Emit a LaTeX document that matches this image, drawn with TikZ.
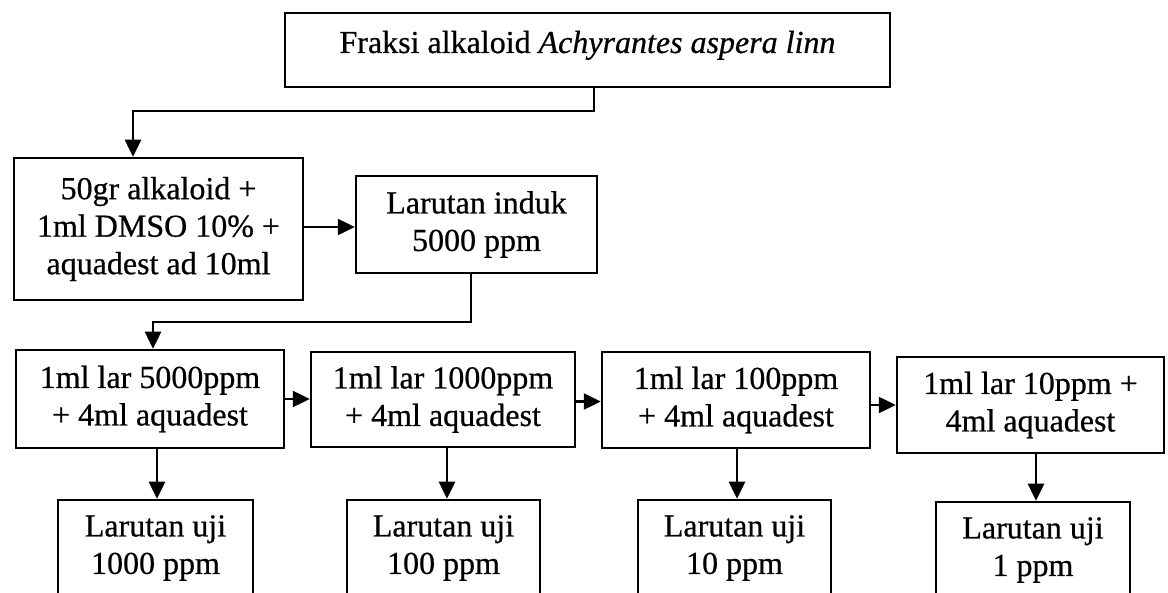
\documentclass[tikz,border=0pt]{standalone}
\usepackage{fontspec}
\setmainfont{Liberation Serif}[FakeBold=0.6]
\usetikzlibrary{arrows.meta}
\begin{document}
\begin{tikzpicture}[x=1pt,y=-1pt,
  box/.style={draw, line width=2.5pt, inner sep=0pt, align=center,
    font=\fontsize{32}{37.5}\selectfont},
  arr/.style={line width=2.5pt, -{Triangle[length=17pt,width=16pt]}}]
\useasboundingbox (0,0) rectangle (1168,593);
\clip (0,0) rectangle (1168,593);
% top
\node[box, minimum width=605pt, text height=40pt, text depth=34pt] (top) at (587.5,50)
  {Fraksi alkaloid \textit{Achyrantes aspera linn}};
\node[box, minimum width=289pt, minimum height=142pt] (mix) at (158.5,229)
  {50gr alkaloid +\\1ml DMSO 10\% +\\aquadest ad 10ml};
\node[box, minimum width=241pt, minimum height=97pt] (induk) at (476.5,224.5)
  {Larutan induk\\5000 ppm};
% row of dilutions
\node[box, minimum width=268pt, minimum height=98pt] (r1) at (150,399)
  {1ml lar 5000ppm\\+ 4ml aquadest};
\node[box, minimum width=264pt, minimum height=95pt] (r2) at (443,399.5)
  {1ml lar 1000ppm\\+ 4ml aquadest};
\node[box, minimum width=268pt, minimum height=96pt] (r3) at (736,400)
  {1ml lar 100ppm\\+ 4ml aquadest};
\node[box, minimum width=267pt, minimum height=96pt] (r4) at (1030.5,405)
  {1ml lar 10ppm +\\4ml aquadest};
% test solutions
\node[box, minimum width=195pt, minimum height=96pt] (b1) at (155.5,548)
  {Larutan uji\\1000 ppm};
\node[box, minimum width=193pt, minimum height=96pt] (b2) at (443.5,548)
  {Larutan uji\\100 ppm};
\node[box, minimum width=193pt, minimum height=96pt] (b3) at (734.5,548)
  {Larutan uji\\10 ppm};
\node[box, minimum width=194pt, minimum height=96pt] (b4) at (1033,550)
  {Larutan uji\\1 ppm};
% connectors
\draw[arr] ([xshift=6.5pt]top.south) -- ++(0,23) -| ([xshift=-25.5pt]mix.north);
\draw[arr] ([yshift=2pt]mix.east) -- ([yshift=2pt]mix.east -| induk.west);
\draw[arr] ([xshift=-5.5pt]induk.south) -- ++(0,48) -| ([xshift=3pt]r1.north);
\draw[arr] (r1.east) -- (r1.east -| r2.west);
\draw[arr] ([yshift=-2pt]r2.east) -- ([yshift=-2pt]r2.east -| r3.west);
\draw[arr] ([yshift=-5pt]r3.east) -- ([yshift=-5pt]r3.east -| r4.west);
\draw[arr] ([xshift=7pt]r1.south) -- ([xshift=7pt]r1.south |- b1.north);
\draw[arr] ([xshift=4pt]r2.south) -- ([xshift=4pt]r2.south |- b2.north);
\draw[arr] ([xshift=1pt]r3.south) -- ([xshift=1pt]r3.south |- b3.north);
\draw[arr] ([xshift=5.5pt]r4.south) -- ([xshift=5.5pt]r4.south |- b4.north);
\end{tikzpicture}
\end{document}
